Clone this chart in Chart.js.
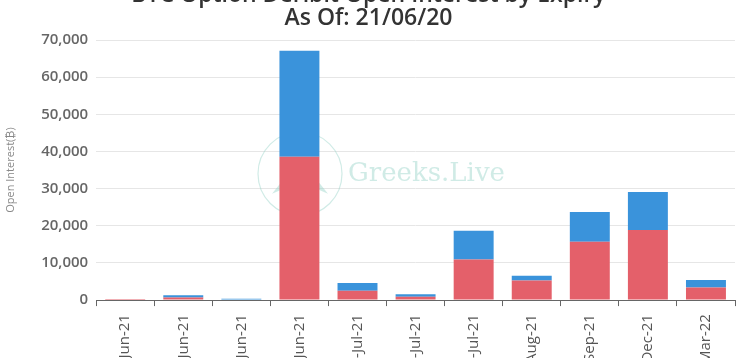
<!DOCTYPE html>
<html>
<head>
<meta charset="utf-8">
<script src="https://cdn.jsdelivr.net/npm/chart.js@4/dist/chart.umd.min.js"></script>
<style>
  html, body { margin: 0; padding: 0; background: #fff; overflow: hidden; }
  #wrap { position: absolute; left: 0; top: -24px; width: 740px; height: 418px; }
</style>
</head>
<body>
<div id="wrap"><canvas id="mychart" width="740" height="418"></canvas></div>
<script>
// expiry dates and open interest (BTC) per expiry
var expiries = ['21-Jun-21', '22-Jun-21', '23-Jun-21', '25-Jun-21', '2-Jul-21', '9-Jul-21',
                '30-Jul-21', '27-Aug-21', '24-Sep-21', '31-Dec-21', '25-Mar-22'];
var redOI  = [20, 700, 150, 38600, 2500, 900, 10950, 5300, 15700, 18850, 3400];
var blueOI = [30, 600, 200, 28500, 2080, 700, 7700, 1250, 8000, 10250, 2000];
var yTicks = [0, 10000, 20000, 30000, 40000, 50000, 60000, 70000];

var watermark = {
    id: 'watermark',
    beforeDatasetsDraw: function(chart) {
        var c = chart.ctx;
        var ys = chart.scales.y;
        var cy = ys.getPixelForValue(34000);
        c.save();
        c.strokeStyle = 'rgba(150,210,200,0.45)';
        c.lineWidth = 1.2;
        c.beginPath();
        c.arc(300, cy, 42, 0, Math.PI * 2);
        c.stroke();
        c.fillStyle = 'rgba(150,210,200,0.45)';
        c.beginPath();
        c.moveTo(300, cy - 15);
        c.lineTo(328, cy + 20);
        c.lineTo(300, cy + 8);
        c.lineTo(272, cy + 20);
        c.closePath();
        c.fill();
        c.font = '26px "DejaVu Serif", serif';
        c.textBaseline = 'middle';
        c.fillText('Greeks.Live', 348, cy);
        c.restore();
    }
};

let ctx = document.getElementById('mychart').getContext('2d');
let mychart = new Chart(ctx, {
    type: 'bar',
    data: {
        labels: expiries,
        datasets: [{
            data: redOI,
            backgroundColor: '#e4606a',
            barPercentage: 0.86
        }, {
            data: blueOI,
            backgroundColor: '#3a93db',
            barPercentage: 0.86
        }]
    },
    options: {
        responsive: false,
        animation: false,
        layout: { padding: { left: 2, right: 5, top: 0, bottom: 0 } },
        font: { family: '"Open Sans", sans-serif' },
        plugins: {
            legend: { display: false },
            tooltip: { enabled: false },
            title: {
                display: true,
                text: ['BTC Option Deribit Open Interest by Expiry', 'As Of: 21/06/20'],
                color: '#333',
                font: { family: '"Open Sans", sans-serif', size: 23, weight: '600', lineHeight: 1.0 },
                padding: { top: 8, bottom: 10 }
            }
        },
        scales: {
            x: {
                stacked: true,
                offset: true,
                grid: { offset: true, drawOnChartArea: false, drawTicks: true, tickLength: 6, color: '#666' },
                border: { color: '#666' },
                ticks: {
                    color: '#555',
                    font: { family: '"Open Sans", sans-serif', size: 15 },
                    maxRotation: 90, minRotation: 90, padding: 8
                }
            },
            y: {
                stacked: true,
                min: 0,
                max: 70000,
                afterBuildTicks: function(axis) {
                    axis.ticks = yTicks.map(function(v) { return { value: v }; });
                },
                grid: { color: '#e6e6e6', drawTicks: false },
                border: { display: false },
                ticks: {
                    color: '#666',
                    padding: 8,
                    font: { family: '"Open Sans", sans-serif', size: 15, weight: '600' },
                    callback: function(v) { return v.toLocaleString('en-US'); }
                },
                title: {
                    display: true,
                    text: 'Open Interest(₿)',
                    color: '#888',
                    font: { family: '"Open Sans", sans-serif', size: 11 },
                    padding: { top: 2, bottom: 16 }
                }
            }
        }
    },
    plugins: [watermark]
});
</script>
</body>
</html>
